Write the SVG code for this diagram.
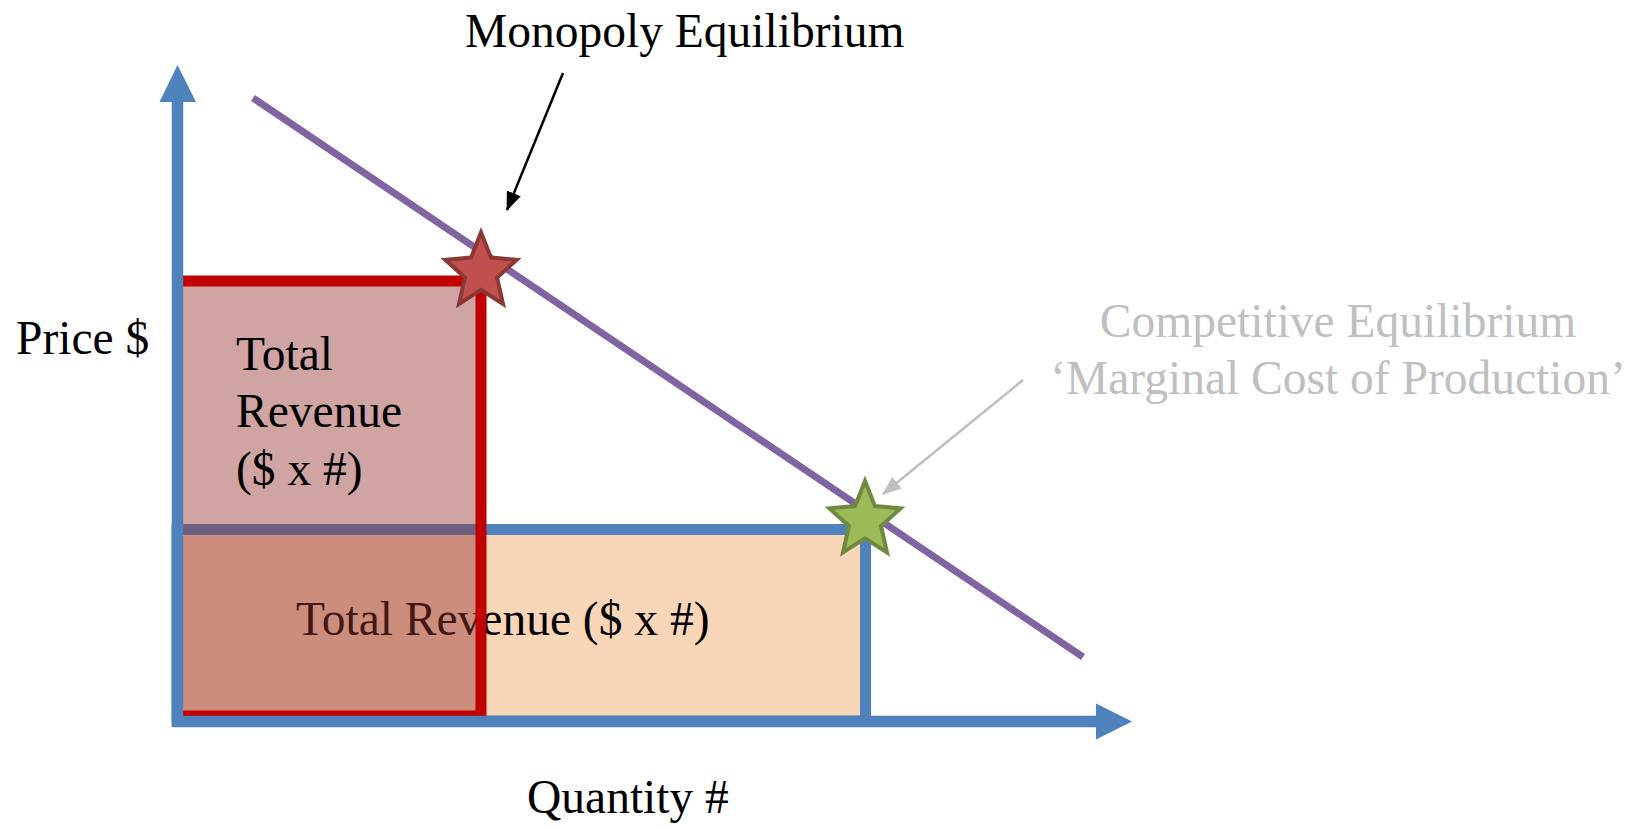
<svg xmlns="http://www.w3.org/2000/svg" width="1633" height="829" viewBox="0 0 1633 829">
<style>
text{font-family:"Liberation Serif","Times New Roman",serif;font-size:47.5px;fill:#000}
.grey{fill:#BFBFBF}
.axis{stroke:#4F81BD;stroke-width:11.5;fill:none}
.axhead{fill:#4F81BD}
</style>
<defs>
<path id="star" d="M0,-39.5 L9.93,-14.4 L35.7,-12.2 L16.07,5.5 L22,32 L0,17.8 L-22,32 L-16.07,5.5 L-35.7,-12.2 L-9.93,-14.4 Z"/>
<marker id="ahBlack" markerUnits="userSpaceOnUse" markerWidth="19" markerHeight="15" viewBox="0 0 19 15" refX="18" refY="7.5" orient="auto">
<path d="M0,0 L19,7.5 L0,15 Z" fill="#000"/>
</marker>
<marker id="ahGrey" markerUnits="userSpaceOnUse" markerWidth="19" markerHeight="15" viewBox="0 0 19 15" refX="18" refY="7.5" orient="auto">
<path d="M0,0 L19,7.5 L0,15 Z" fill="#BFBFBF"/>
</marker>
</defs>
<rect width="1633" height="829" fill="#fff"/>

<g id="competitive-revenue">
<rect x="177" y="529.5" width="688.5" height="191.5" fill="#F9D6B8" stroke="#4F81BD" stroke-width="11"/>
<text x="296" y="635">Total Revenue ($ x #)</text>
</g>

<g id="monopoly-revenue">
<rect x="177" y="281" width="304" height="435" fill="#943634" fill-opacity="0.45" stroke="none"/>
<path d="M177,281 H481 V716 H177" fill="none" stroke="#C00000" stroke-width="11"/>
<text x="236" y="370">Total</text>
<text x="236" y="427">Revenue</text>
<text x="236" y="485">($ x #)</text>
</g>

<g id="axes">
<line class="axis" x1="177.5" y1="100" x2="177.5" y2="721"/>
<polygon class="axhead" points="177.5,65 196,102 159.5,102"/>
<line class="axis" x1="172" y1="721.5" x2="1098" y2="721.5"/>
<polygon class="axhead" points="1132,721.5 1096,703.5 1096,739.5"/>
</g>

<g id="demand-curve">
<line x1="253" y1="98" x2="1083" y2="657" stroke="#8064A2" stroke-width="7"/>
</g>

<g id="monopoly-star">
<use href="#star" transform="translate(481,272)" fill="#C0504D" stroke="#8C3836" stroke-width="4" stroke-miterlimit="10"/>
</g>
<g id="competitive-star">
<use href="#star" transform="translate(865,520.5)" fill="#9BBB59" stroke="#71893F" stroke-width="4" stroke-miterlimit="10"/>
</g>

<g id="connectors">
<line x1="563" y1="73" x2="507" y2="210" stroke="#000" stroke-width="2.5" marker-end="url(#ahBlack)"/>
<line x1="1023" y1="380" x2="883" y2="494" stroke="#BFBFBF" stroke-width="2.5" marker-end="url(#ahGrey)"/>
</g>

<g id="labels">
<text x="465" y="47">Monopoly Equilibrium</text>
<text x="16" y="354">Price $</text>
<text x="527" y="813">Quantity #</text>
<text class="grey" x="1338" y="337" text-anchor="middle">Competitive Equilibrium</text>
<text class="grey" x="1338" y="394" text-anchor="middle">‘Marginal Cost of Production’</text>
</g>
</svg>
